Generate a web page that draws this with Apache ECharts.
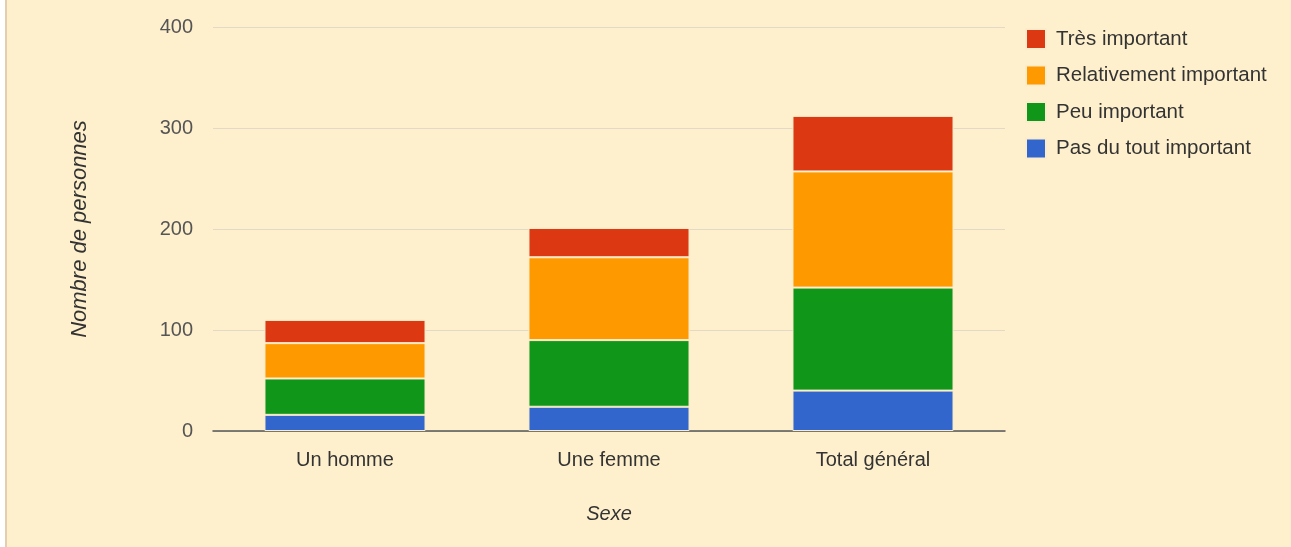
<!DOCTYPE html>
<html>
<head>
<meta charset="utf-8">
<script src="https://cdn.jsdelivr.net/npm/echarts@6/dist/echarts.min.js"></script>
<style>
html,body{margin:0;padding:0;background:#ffffff;}
#wrap{position:absolute;left:5px;top:0;width:1286px;height:547px;border-left:2px solid #e3cfae;box-sizing:border-box;background:#fff0cd;}
#chart{position:absolute;left:-7px;top:0;width:1291px;height:547px;}
</style>
</head>
<body>
<div id="wrap"><div id="chart"></div></div>
<script>
const categories = ['Un homme', 'Une femme', 'Total général'];
const pasDuTout = [16, 24, 40];
const peu = [36, 66, 102];
const relativement = [35, 82, 115];
const tres = [23, 29, 55];
const seriesNames = ['Pas du tout important', 'Peu important', 'Relativement important', 'Très important'];
const seriesColors = ['#3366cc', '#109618', '#ff9900', '#dc3912'];
const seriesData = [pasDuTout, peu, relativement, tres];
const legendOrder = ['Très important', 'Relativement important', 'Peu important', 'Pas du tout important'];

const chart = echarts.init(document.getElementById('chart'));
const font = 'Liberation Sans, Arial, sans-serif';
chart.setOption({
  backgroundColor: 'transparent',
  textStyle: { fontFamily: font },
  grid: { left: 213, right: 286, top: 27, bottom: 116 },
  legend: {
    data: legendOrder,
    orient: 'vertical',
    left: 1025, top: 28, padding: 0,
    itemWidth: 20, itemHeight: 20, itemGap: 14.5,
    icon: 'rect',
    textStyle: { fontSize: 20.5, lineHeight: 18, color: '#333', fontFamily: font, padding: [0, 0, 0, 5] }
  },
  xAxis: {
    type: 'category',
    data: categories,
    name: 'Sexe',
    nameLocation: 'middle',
    nameGap: 73,
    nameTextStyle: { fontStyle: 'italic', fontSize: 20, color: '#333', fontFamily: font },
    axisLine: { lineStyle: { color: '#555', width: 1.5 } },
    axisTick: { show: false },
    axisLabel: { fontSize: 20, color: '#333', margin: 19, fontFamily: font }
  },
  yAxis: {
    type: 'value',
    min: 0, max: 400, interval: 100,
    name: 'Nombre de personnes',
    nameLocation: 'middle',
    nameGap: 122,
    nameTextStyle: { fontStyle: 'italic', fontSize: 22, color: '#333', fontFamily: font },
    axisLine: { show: false },
    axisTick: { show: false },
    axisLabel: { fontSize: 20, color: '#555', margin: 20, fontFamily: font },
    splitLine: { lineStyle: { color: '#e2d9c6', width: 1 } }
  },
  series: seriesNames.map((n, i) => ({
    name: n,
    type: 'bar',
    stack: 'total',
    data: seriesData[i],
    barWidth: '61%',
    itemStyle: { color: seriesColors[i], borderColor: '#fbeccb', borderWidth: 1 }
  }))
});
</script>
</body>
</html>
